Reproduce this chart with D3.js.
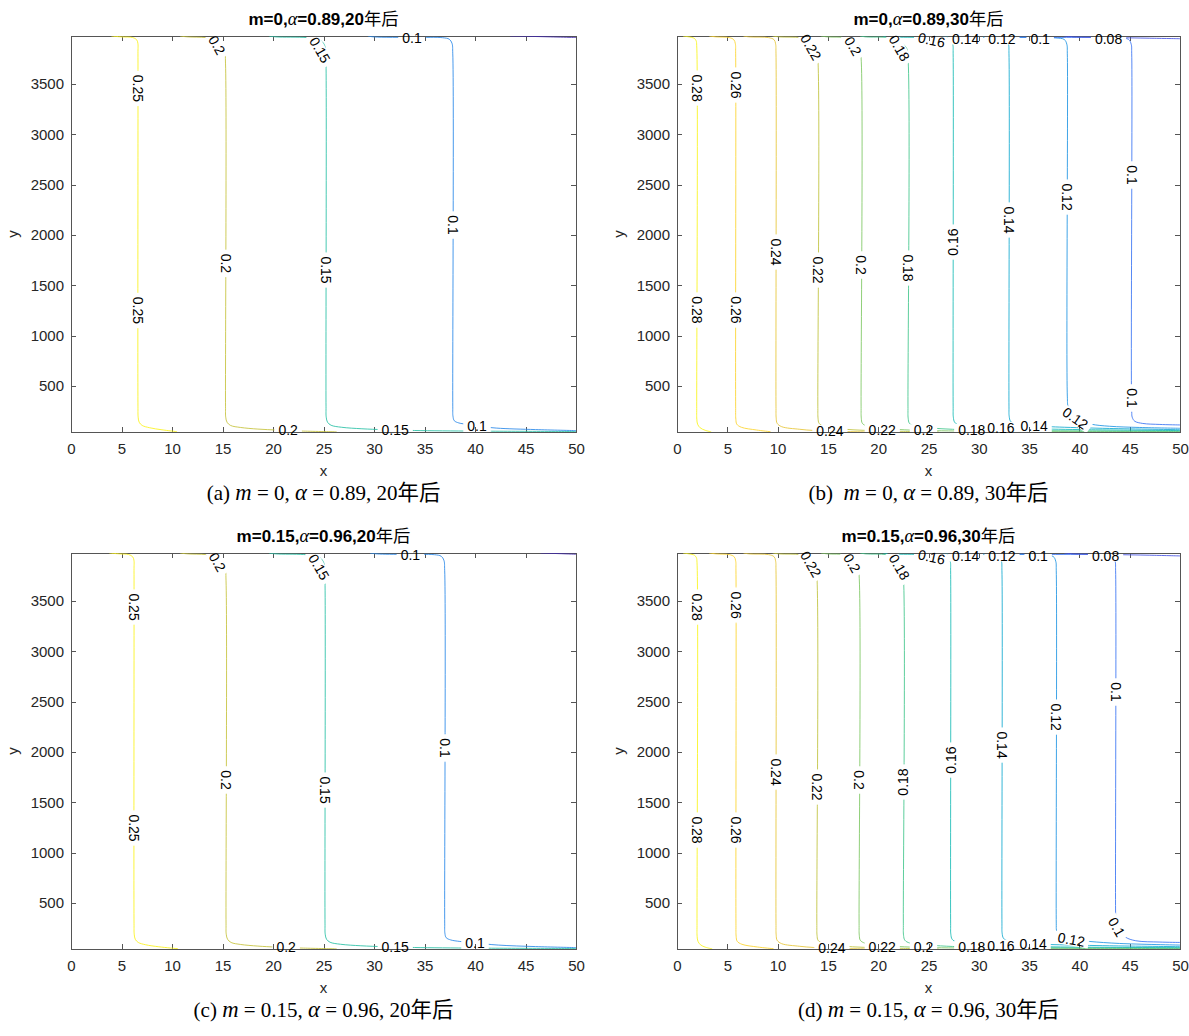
<!DOCTYPE html>
<html>
<head>
<meta charset="utf-8">
<script src="https://cdn.jsdelivr.net/npm/d3@7"></script>
<style>
  body { margin: 0; background: #fff; }
  text { white-space: pre; }
</style>
</head>
<body>
<div id="container"></div>
<script>
// axis ranges and ticks (same for all four panels)
const xDomain = [0, 50];
const yDomain = [43, 3977];
const xTicks = [0, 5, 10, 15, 20, 25, 30, 35, 40, 45, 50];
const yTicks = [500, 1000, 1500, 2000, 2500, 3000, 3500];

// (a) m=0, alpha=0.89, 20 years
const levelsA = [0.25, 0.2, 0.15, 0.1, 0.05];
const linesA = [
  [[4.0,3977],[5.0,3968],[6.1,3962],[6.5,3940],[6.62,3905],[6.63,3800],[6.63,300],[6.65,190],[6.75,140],[7.05,108],[7.8,85],[9.0,65],[10.5,46]],
  [[10.8,3977],[11.6,3968],[13.3,3962],[14.3,3945],[14.9,3905],[15.2,3850],[15.3,3700],[15.3,300],[15.32,190],[15.45,140],[15.8,108],[16.8,88],[18.5,72],[20.5,62],[23,52],[26.3,45]],
  [[19.6,3977],[20.3,3968],[23.3,3962],[24.5,3945],[25.0,3905],[25.2,3850],[25.25,3700],[25.25,300],[25.27,190],[25.4,140],[25.75,110],[26.8,90],[28.8,75],[31,66],[34,58],[40,52],[50,48]],
  [[29.4,3977],[30,3968],[34,3963],[36.8,3960],[37.45,3945],[37.72,3905],[37.8,3800],[37.8,300],[37.82,200],[37.95,155],[38.4,133],[39.3,118],[40.2,103],[42.1,82],[46,67],[50,57]],
  [[43.5,3977],[46,3972],[50,3962]]
];
const labelsA = [
  [0.25, 6.63, 3456, 90], [0.25, 6.63, 1251, 90],
  [0.2, 14.45, 3887, 60], [0.2, 15.3, 1718, 90], [0.2, 21.5, 58, 0],
  [0.15, 24.65, 3838, 60], [0.15, 25.25, 1652, 90], [0.15, 32.1, 62, 0],
  [0.1, 33.76, 3957, 0], [0.1, 37.8, 2099, 90], [0.1, 40.2, 100, 0]
];

// (b) m=0, alpha=0.89, 30 years
const levelsB = [0.28, 0.26, 0.24, 0.22, 0.2, 0.18, 0.16, 0.14, 0.12, 0.1, 0.08];
const linesB = [
  [[0.6,3977],[1.2,3968],[1.7,3955],[1.9,3930],[1.96,3880],[1.96,300],[1.97,170],[2.05,120],[2.3,85],[2.8,60],[3.4,45]],
  [[3.2,3977],[3.9,3968],[5.2,3961],[5.65,3940],[5.8,3900],[5.83,3800],[5.83,300],[5.85,170],[5.95,120],[6.4,90],[7.9,63],[9.3,46]],
  [[6.6,3977],[7.2,3968],[9.1,3961],[9.65,3940],[9.8,3900],[9.84,3800],[9.84,300],[9.86,180],[9.95,130],[10.4,96],[12.2,70],[13.6,58],[15.2,52],[17,47],[19,44]],
  [[9.5,3977],[10.2,3968],[12.3,3961],[13.3,3935],[13.85,3870],[14.0,3760],[14.0,300],[14.02,180],[14.12,130],[14.6,98],[16.5,72],[18.5,60],[20.4,55],[22.5,49],[26,45]],
  [[14.3,3977],[15,3968],[16.8,3961],[17.6,3935],[18.15,3870],[18.3,3760],[18.3,300],[18.32,180],[18.42,130],[18.9,100],[20.8,76],[23.2,62],[24.5,58],[27,54],[32,51],[40,49],[50,48]],
  [[18.2,3977],[18.8,3968],[21,3961],[22.0,3930],[22.8,3860],[22.96,3760],[22.96,300],[22.98,180],[23.1,130],[23.6,102],[25.3,82],[27.4,70],[29.3,63],[33,58],[40,54],[50,52]],
  [[20.5,3977],[21.2,3968],[24,3963],[26.6,3957],[27.2,3940],[27.42,3890],[27.45,3800],[27.45,300],[27.47,190],[27.6,140],[28.1,108],[29.5,95],[31,87],[32.2,83],[35,76],[40,67],[50,57]],
  [[24.5,3977],[25.5,3968],[29,3963],[31.9,3958],[32.7,3942],[32.95,3895],[33.0,3800],[33.0,300],[33.02,200],[33.15,150],[33.6,122],[34.6,110],[35.5,103],[38,92],[43,78],[50,66]],
  [[28.5,3977],[29.5,3968],[33,3963],[37.6,3958],[38.5,3942],[38.75,3895],[38.8,3800],[38.8,400],[38.88,290],[39.2,220],[39.6,180],[40.2,150],[41.2,120],[43,100],[46,88],[50,80]],
  [[32.5,3977],[33.5,3968],[37,3963],[44,3958],[44.9,3942],[45.15,3895],[45.2,3800],[45.2,250],[45.25,190],[45.5,150],[46.3,128],[48,118],[50,113]],
  [[38.5,3977],[39.5,3968],[43,3962],[47,3955],[50,3950]]
];
const labelsB = [
  [0.28, 1.96, 3460, 90], [0.28, 1.96, 1255, 90],
  [0.26, 5.83, 3490, 90], [0.26, 5.83, 1255, 90],
  [0.24, 9.84, 1831, 90], [0.24, 15.2, 53, 0],
  [0.22, 13.3, 3867, 60], [0.22, 14.0, 1652, 90], [0.22, 20.4, 58, 0],
  [0.2, 17.5, 3877, 60], [0.2, 18.3, 1702, 90], [0.2, 24.5, 60, 0],
  [0.18, 22.1, 3857, 60], [0.18, 22.96, 1672, 90], [0.18, 29.3, 63, 0],
  [0.16, 25.3, 3937, 12], [0.16, 27.45, 1930, -90], [0.16, 32.2, 83, 0],
  [0.14, 28.7, 3952, 0], [0.14, 33.0, 2149, 90], [0.14, 35.5, 103, 0],
  [0.12, 32.3, 3952, 0], [0.12, 38.8, 2377, 90], [0.12, 39.6, 180, 35],
  [0.1, 36.1, 3952, 0], [0.1, 45.2, 2596, 90], [0.1, 45.2, 381, 90],
  [0.08, 42.9, 3952, 0]
];

// (c) m=0.15, alpha=0.96, 20 years
const levelsC = [0.25, 0.2, 0.15, 0.1, 0.05];
const linesC = [
  [[3.8,3977],[4.8,3968],[5.7,3962],[6.1,3940],[6.23,3905],[6.24,3800],[6.24,300],[6.26,190],[6.36,140],[6.66,108],[7.4,85],[8.7,65],[10.6,46]],
  [[10.8,3977],[11.6,3968],[13.3,3962],[14.3,3945],[14.95,3905],[15.25,3850],[15.35,3700],[15.35,300],[15.37,190],[15.5,140],[15.85,108],[16.8,88],[18.5,72],[20.3,62],[23,52],[26.3,45]],
  [[19.6,3977],[20.3,3968],[23,3962],[24.4,3945],[24.9,3905],[25.1,3850],[25.15,3700],[25.15,300],[25.17,190],[25.3,140],[25.65,110],[26.7,90],[28.7,75],[31,66],[34,58],[40,52],[50,48]],
  [[29.6,3977],[30.3,3968],[33,3963],[36,3960],[36.65,3945],[36.92,3905],[37.0,3800],[37.0,300],[37.02,200],[37.15,155],[37.6,133],[38.5,118],[40,103],[42.3,82],[46,67],[50,57]],
  [[46.5,3977],[48,3972],[50,3965]]
];
const labelsC = [
  [0.25, 6.24, 3440, 90], [0.25, 6.24, 1245, 90],
  [0.2, 14.5, 3887, 60], [0.2, 15.35, 1722, 90], [0.2, 21.3, 58, 0],
  [0.15, 24.55, 3838, 60], [0.15, 25.15, 1622, 90], [0.15, 32.1, 62, 0],
  [0.1, 33.6, 3957, 0], [0.1, 37.0, 2040, 90], [0.1, 40.0, 100, 0]
];

// (d) m=0.15, alpha=0.96, 30 years
const levelsD = [0.28, 0.26, 0.24, 0.22, 0.2, 0.18, 0.16, 0.14, 0.12, 0.1, 0.08];
const linesD = [
  [[0.6,3977],[1.2,3968],[1.73,3955],[1.93,3930],[1.99,3880],[1.99,300],[2.0,170],[2.08,120],[2.33,85],[2.85,60],[3.5,45]],
  [[3.2,3977],[3.9,3968],[5.2,3961],[5.68,3940],[5.83,3900],[5.86,3800],[5.86,300],[5.88,170],[5.98,120],[6.45,90],[8,63],[9.6,46]],
  [[6.6,3977],[7.2,3968],[9.1,3961],[9.65,3940],[9.8,3900],[9.84,3800],[9.84,300],[9.86,180],[9.95,130],[10.4,96],[12.2,70],[13.6,58],[15.2,52],[17,47],[19,44]],
  [[9.5,3977],[10.2,3968],[12.3,3961],[13.2,3935],[13.75,3870],[13.9,3760],[13.9,300],[13.92,180],[14.02,130],[14.5,98],[16.4,72],[18.5,60],[20.4,55],[22.5,49],[26,45]],
  [[14.3,3977],[15,3968],[16.7,3961],[17.45,3935],[17.95,3870],[18.1,3760],[18.1,300],[18.12,180],[18.22,130],[18.7,100],[20.6,76],[23.2,62],[24.5,58],[27,54],[32,51],[40,49],[50,48]],
  [[18.2,3977],[18.8,3968],[20.8,3961],[21.7,3930],[22.35,3860],[22.5,3760],[22.5,300],[22.52,180],[22.65,130],[23.15,102],[25,82],[27.4,68],[29.3,62],[33,57],[40,54],[50,52]],
  [[20.5,3977],[21.2,3968],[24,3963],[26.4,3957],[26.95,3940],[27.17,3890],[27.2,3800],[27.2,300],[27.22,190],[27.35,140],[27.85,108],[29.3,90],[30.6,80],[32.2,73],[36,66],[42,60],[50,56]],
  [[24.5,3977],[25.5,3968],[29,3963],[31.2,3958],[32,3942],[32.25,3895],[32.3,3800],[32.3,300],[32.32,200],[32.45,150],[32.9,122],[34,105],[35.4,93],[38,85],[43,75],[50,66]],
  [[28.5,3977],[29.5,3968],[33,3963],[36.5,3958],[37.4,3942],[37.65,3895],[37.7,3800],[37.7,300],[37.72,230],[37.85,185],[38.3,155],[39.2,137],[41,118],[44,98],[50,82]],
  [[32.5,3977],[33.5,3968],[37,3963],[42.4,3958],[43.3,3942],[43.55,3895],[43.6,3800],[43.6,400],[43.62,350],[43.75,300],[44.1,220],[44.6,160],[45.6,125],[48,112],[50,108]],
  [[38.5,3977],[39.5,3968],[43,3962],[47,3955],[50,3948]]
];
const labelsD = [
  [0.28, 1.99, 3440, 90], [0.28, 1.99, 1225, 90],
  [0.26, 5.86, 3460, 90], [0.26, 5.86, 1225, 90],
  [0.24, 9.84, 1801, 90], [0.24, 15.4, 53, 0],
  [0.22, 13.3, 3867, 60], [0.22, 13.9, 1652, 90], [0.22, 20.4, 58, 0],
  [0.2, 17.4, 3877, 60], [0.2, 18.1, 1722, 90], [0.2, 24.5, 60, 0],
  [0.18, 22.1, 3838, 60], [0.18, 22.5, 1702, -90], [0.18, 29.3, 63, 0],
  [0.16, 25.3, 3937, 12], [0.16, 27.2, 1920, -90], [0.16, 32.2, 75, 0],
  [0.14, 28.7, 3952, 0], [0.14, 32.3, 2069, 90], [0.14, 35.4, 93, 0],
  [0.12, 32.3, 3952, 0], [0.12, 37.7, 2347, 90], [0.12, 39.2, 137, 10],
  [0.1, 35.9, 3952, 0], [0.1, 43.6, 2596, 90], [0.1, 43.7, 262, 60],
  [0.08, 42.6, 3952, 0]
];

// titles and captions: [text, kind]
const titlesText = [
  [["m=0,", "b"], ["α", "i"], ["=0.89,20", "b"], ["年后", "cjk"]],
  [["m=0,", "b"], ["α", "i"], ["=0.89,30", "b"], ["年后", "cjk"]],
  [["m=0.15,", "b"], ["α", "i"], ["=0.96,20", "b"], ["年后", "cjk"]],
  [["m=0.15,", "b"], ["α", "i"], ["=0.96,30", "b"], ["年后", "cjk"]]
];
const captionsText = [
  [["(a) ", "r"], ["m", "i"], [" = 0, ", "r"], ["α", "i"], [" = 0.89, 20", "r"], ["年后", "cjk"]],
  [["(b)  ", "r"], ["m", "i"], [" = 0, ", "r"], ["α", "i"], [" = 0.89, 30", "r"], ["年后", "cjk"]],
  [["(c) ", "r"], ["m", "i"], [" = 0.15, ", "r"], ["α", "i"], [" = 0.96, 20", "r"], ["年后", "cjk"]],
  [["(d) ", "r"], ["m", "i"], [" = 0.15, ", "r"], ["α", "i"], [" = 0.96, 30", "r"], ["年后", "cjk"]]
];

// parula-like colour stops
const parula = ["#3e26a8", "#4662fb", "#1c97e2", "#0bb8c1", "#4fca7d", "#bdc23c", "#fdc635", "#f9fb15"];

const sans = "Arial, 'Liberation Sans', Helvetica, sans-serif";
const serif = "'Times New Roman', 'Liberation Serif', serif";
const cjk = "'Noto Sans CJK SC', sans-serif";

let svg = d3.select("#container")
  .append("svg")
  .attr("width", 1189)
  .attr("height", 1036)
  .style("font-family", sans);

let defs = svg.append("defs");

let panels = [
  {id: "a", frame: {left: 71, right: 576, top: 36, bottom: 432}, levels: levelsA, lines: linesA, labels: labelsA, cdom: [0.05, 0.255]},
  {id: "b", frame: {left: 677, right: 1180, top: 36, bottom: 432}, levels: levelsB, lines: linesB, labels: labelsB, cdom: [0.057, 0.284]},
  {id: "c", frame: {left: 71, right: 576, top: 553, bottom: 949}, levels: levelsC, lines: linesC, labels: labelsC, cdom: [0.05, 0.255]},
  {id: "d", frame: {left: 677, right: 1180, top: 553, bottom: 949}, levels: levelsD, lines: linesD, labels: labelsD, cdom: [0.057, 0.284]}
];

panels.forEach(function(p, i) {
  drawPanel(p, titlesText[i], captionsText[i]);
});

function colorScale(dom) {
  let stops = parula.map(function(c, i) {
    return dom[0] + (dom[1] - dom[0]) * i / (parula.length - 1);
  });
  return d3.scaleLinear().domain(stops).range(parula).clamp(true);
}

function fontFor(kind) {
  if (kind == "b") return {family: sans, weight: "bold", style: "normal", scale: 1};
  if (kind == "i") return {family: serif, weight: "normal", style: "italic", scale: 1.08};
  if (kind == "cjk") return {family: cjk, weight: "normal", style: "normal", scale: 1.02};
  return {family: serif, weight: "normal", style: "normal", scale: 1};
}

function richText(g, parts, x, y, size) {
  let t = g.append("text")
    .attr("x", x)
    .attr("y", y)
    .attr("text-anchor", "middle")
    .attr("fill", "#000");
  parts.forEach(function(p) {
    let f = fontFor(p[1]);
    t.append("tspan")
      .text(p[0])
      .attr("font-size", size * f.scale)
      .attr("font-family", f.family)
      .attr("font-weight", f.weight)
      .attr("font-style", f.style);
  });
  return t;
}

function drawPanel(p, title, caption) {
  let f = p.frame;
  let x = d3.scaleLinear().domain(xDomain).range([f.left, f.right]);
  let y = d3.scaleLinear().domain(yDomain).range([f.bottom, f.top]);
  let color = colorScale(p.cdom);
  let g = svg.append("g").attr("class", "panel-" + p.id);

  // axes box and ticks
  let axes = g.append("g").attr("class", "axes");

  axes.append("rect")
    .attr("x", f.left)
    .attr("y", f.top)
    .attr("width", f.right - f.left)
    .attr("height", f.bottom - f.top)
    .attr("fill", "none")
    .attr("stroke", "#555")
    .attr("stroke-width", 1)
    .attr("shape-rendering", "crispEdges");

  let bottomAxis = axes.append("g")
    .attr("transform", "translate(0," + f.bottom + ")")
    .call(d3.axisBottom(x).tickValues(xTicks).tickSizeInner(-5).tickSizeOuter(0).tickPadding(11));
  let topAxis = axes.append("g")
    .attr("transform", "translate(0," + f.top + ")")
    .call(d3.axisTop(x).tickValues(xTicks).tickSizeInner(-5).tickSizeOuter(0).tickFormat(function() { return ""; }));
  let leftAxis = axes.append("g")
    .attr("transform", "translate(" + f.left + ",0)")
    .call(d3.axisLeft(y).tickValues(yTicks).tickSizeInner(-5).tickSizeOuter(0).tickPadding(7).tickFormat(d3.format("d")));
  let rightAxis = axes.append("g")
    .attr("transform", "translate(" + f.right + ",0)")
    .call(d3.axisRight(y).tickValues(yTicks).tickSizeInner(-5).tickSizeOuter(0).tickFormat(function() { return ""; }));

  [bottomAxis, topAxis, leftAxis, rightAxis].forEach(function(a) {
    a.select(".domain").remove();
    a.attr("font-family", sans).attr("font-size", 15);
    a.selectAll("line").attr("stroke", "#555").attr("shape-rendering", "crispEdges");
    a.selectAll("text").attr("fill", "#262626");
  });

  // contour labels, measured first so the mask can cut gaps in the lines
  let mask = defs.append("mask")
    .attr("id", "gap-" + p.id)
    .attr("maskUnits", "userSpaceOnUse")
    .attr("x", 0).attr("y", 0)
    .attr("width", 1189).attr("height", 1036);
  mask.append("rect")
    .attr("x", 0).attr("y", 0)
    .attr("width", 1189).attr("height", 1036)
    .attr("fill", "white");

  defs.append("clipPath")
    .attr("id", "clip-" + p.id)
    .append("rect")
    .attr("x", f.left)
    .attr("y", f.top)
    .attr("width", f.right - f.left)
    .attr("height", f.bottom - f.top);

  let line = d3.line()
    .x(function(d) { return x(d[0]); })
    .y(function(d) { return y(d[1]); })
    .curve(d3.curveCatmullRom.alpha(0.5));

  let contours = g.append("g")
    .attr("clip-path", "url(#clip-" + p.id + ")")
    .append("g")
    .attr("mask", "url(#gap-" + p.id + ")");

  contours.selectAll("path")
    .data(p.lines)
    .enter()
    .append("path")
    .attr("d", line)
    .attr("fill", "none")
    .attr("stroke", function(d, i) { return color(p.levels[i]); })
    .attr("stroke-width", 1)
    .attr("stroke-opacity", 0.85);

  let labelGroup = g.append("g").attr("class", "clabels");
  labelGroup.selectAll("text")
    .data(p.labels)
    .enter()
    .append("text")
    .attr("transform", function(d) {
      return "translate(" + x(d[1]) + "," + y(d[2]) + ") rotate(" + d[3] + ")";
    })
    .attr("text-anchor", "middle")
    .attr("dominant-baseline", "central")
    .attr("font-size", 14)
    .attr("fill", "#000")
    .text(function(d) { return String(d[0]); })
    .each(function(d) {
      let w = this.getComputedTextLength();
      mask.append("rect")
        .attr("x", -w / 2 - 4)
        .attr("y", -6)
        .attr("width", w + 8)
        .attr("height", 12)
        .attr("fill", "black")
        .attr("transform", "translate(" + x(d[1]) + "," + y(d[2]) + ") rotate(" + d[3] + ")");
    });

  // axis names
  let cx = (f.left + f.right) / 2;
  let cy = (f.top + f.bottom) / 2;
  g.append("text")
    .attr("x", cx)
    .attr("y", f.bottom + 44)
    .attr("text-anchor", "middle")
    .attr("font-size", 15)
    .attr("fill", "#262626")
    .text("x");
  g.append("text")
    .attr("transform", "translate(" + (f.left - 53) + "," + cy + ") rotate(-90)")
    .attr("text-anchor", "middle")
    .attr("font-size", 15)
    .attr("fill", "#262626")
    .text("y");

  richText(g, title, cx, f.top - 11, 17);
  richText(g, caption, cx, f.bottom + 68, 21);
}
</script>
</body>
</html>
